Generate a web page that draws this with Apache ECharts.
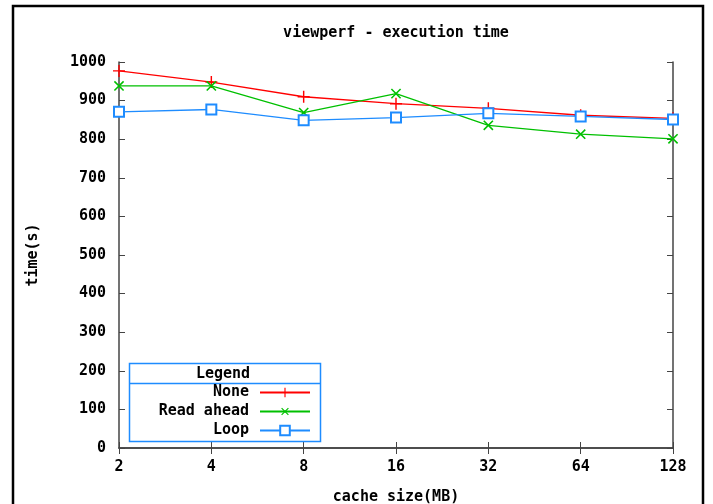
<!DOCTYPE html>
<html>
<head>
<meta charset="utf-8">
<script src="https://cdn.jsdelivr.net/npm/echarts@6/dist/echarts.min.js"></script>
<style>
  html, body { margin: 0; padding: 0; background: #fff; }
  #chart { width: 713px; height: 504px; }
</style>
</head>
<body>
<div id="chart"></div>
<script>
// cache size (MB), evenly spaced like the log axis in the original
const cacheSizes = ["2", "4", "8", "16", "32", "64", "128"];
// execution time (s) per strategy
const noneTimes = [977, 948, 910, 892, 880, 862, 854];
const readAheadTimes = [938, 938, 869, 918, 836, 813, 801];
const loopTimes = [871, 877, 849, 856, 867, 859, 851];

const FONT = "DejaVu Sans Mono";
const RED = "#ff0000";
const GREEN = "#00c000";
const BLUE = "#1e8cff";
const AXIS = "#444";

// gnuplot style point shapes
const PLUS = "path://M4.4,0h1.2v10h-1.2zM0,4.4h10v1.2h-10z";

const chart = echarts.init(document.getElementById("chart"));

const txt = { fontFamily: FONT, fontWeight: "bold", fontSize: 15, color: "#000" };

const makeSeries = (name, data, color, symbol, rotate, size) => ({
  name: name,
  type: "line",
  data: data,
  symbol: symbol,
  symbolSize: size,
  symbolRotate: rotate,
  showAllSymbol: true,
  lineStyle: { color: color, width: 1.3 },
  itemStyle: { color: color, borderColor: color, borderWidth: symbol === "emptyRect" ? 1.5 : 0 },
  emphasis: { disabled: true },
  animation: false,
});

chart.setOption({
  animation: false,
  grid: { left: 119, right: 40, top: 62, bottom: 56, outerBoundsMode: "none", containLabel: false },
  xAxis: [
    {
      type: "category",
      data: cacheSizes,
      boundaryGap: false,
      name: "cache size(MB)",
      nameLocation: "middle",
      nameGap: 42,
      nameTextStyle: txt,
      axisLine: { lineStyle: { color: AXIS, width: 1.5 } },
      axisTick: { inside: true, length: 6, lineStyle: { color: AXIS } },
      axisLabel: Object.assign({ margin: 12 }, txt),
      splitLine: { show: false },
    },
    {
      type: "category",
      data: cacheSizes,
      boundaryGap: false,
      position: "top",
      axisLine: { lineStyle: { color: AXIS, width: 1.5 } },
      axisTick: { inside: true, length: 6, lineStyle: { color: AXIS } },
      axisLabel: { show: false },
    },
  ],
  yAxis: [
    {
      type: "value",
      min: 0,
      max: 1000,
      interval: 100,
      name: "time(s)",
      nameLocation: "middle",
      nameGap: 78,
      nameRotate: 90,
      nameTextStyle: txt,
      axisLine: { show: true, lineStyle: { color: AXIS, width: 1.5 } },
      axisTick: { show: true, inside: true, length: 6, lineStyle: { color: AXIS } },
      axisLabel: Object.assign({ margin: 13, formatter: (v) => String(v) }, txt),
      splitLine: { show: false },
    },
    {
      type: "value",
      min: 0,
      max: 1000,
      interval: 100,
      position: "right",
      axisLine: { show: true, lineStyle: { color: AXIS, width: 1.5 } },
      axisTick: { show: true, inside: true, length: 6, lineStyle: { color: AXIS } },
      axisLabel: { show: false },
      splitLine: { show: false },
    },
  ],
  legend: {
    z: 20,
    orient: "vertical",
    left: 143,
    top: 385,
    padding: 0,
    align: "right",
    itemWidth: 50,
    itemHeight: 12,
    itemGap: 4,
    selectedMode: false,
    textStyle: Object.assign({ width: 106, align: "right", lineHeight: 12, padding: [0, 6, 0, 0] }, txt),
    data: ["None", "Read ahead", "Loop"],
  },
  graphic: [
    // outer frame
    { type: "rect", shape: { x: 13, y: 6, width: 690, height: 520 }, style: { fill: "none", stroke: "#000", lineWidth: 2.5 }, silent: true },
    { type: "text", x: 396, y: 33, style: { text: "viewperf - execution time", font: "bold 15px " + FONT, fill: "#000", align: "center", verticalAlign: "middle" } },
    // legend box
    { type: "rect", z: 5, shape: { x: 129.5, y: 363.5, width: 191, height: 78 }, style: { fill: "#fff", stroke: BLUE, lineWidth: 1.5 } },
    { type: "line", z: 6, shape: { x1: 129.5, y1: 383.5, x2: 320.5, y2: 383.5 }, style: { stroke: BLUE, lineWidth: 1.5 } },
    { type: "text", z: 6, x: 223, y: 374, style: { text: "Legend", font: "bold 15px " + FONT, fill: "#000", align: "center", verticalAlign: "middle" } },
  ],
  series: [
    makeSeries("None", noneTimes, RED, PLUS, 0, 12),
    makeSeries("Read ahead", readAheadTimes, GREEN, PLUS, 45, 13),
    makeSeries("Loop", loopTimes, BLUE, "emptyRect", 0, 10),
  ],
});
</script>
</body>
</html>
